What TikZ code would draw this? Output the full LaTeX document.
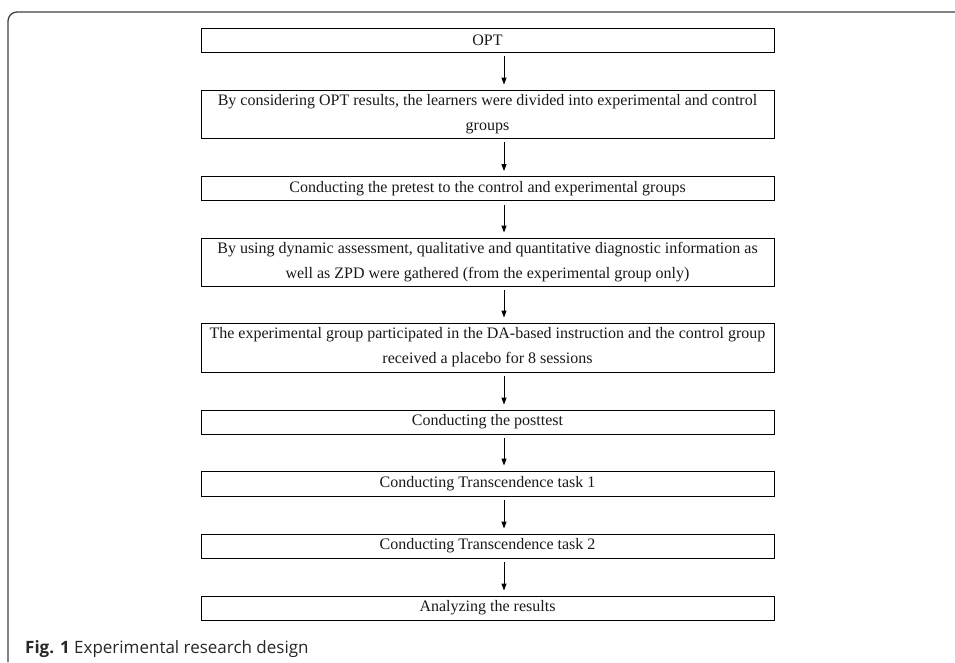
\documentclass[tikz,border=0pt]{standalone}
\usepackage{fontspec}
\setmainfont{Liberation Serif}
\newfontfamily\capfont{Open Sans}
\usetikzlibrary{arrows.meta}
\begin{document}
\begin{tikzpicture}[x=1pt,y=-1pt,
  stepbox/.style={draw=black,line width=0.9pt,minimum width=573pt,inner sep=0pt,
    font=\fontsize{16}{25}\selectfont,align=center,text=black!90},
  flow/.style={line width=0.9pt,-{Triangle[length=7pt,width=5pt]}}]
\useasboundingbox (0,0) rectangle (955,662);
\draw[line width=1.3pt,black!75,rounded corners=9pt] (8,662) -- (8,12) -- (955,12);
\def\bx{487.5}
\node[stepbox,minimum height=24pt] (b1) at (\bx,40) {OPT};
\node[stepbox,minimum height=48pt] (b2) at (\bx,114) {By considering OPT results, the learners were divided into experimental and control\\groups};
\node[stepbox,minimum height=24pt] (b3) at (\bx,188.5) {Conducting the pretest to the control and experimental groups};
\node[stepbox,minimum height=48pt] (b4) at (\bx,262) {By using dynamic assessment, qualitative and quantitative diagnostic information as\\well as ZPD were gathered (from the experimental group only)};
\node[stepbox,minimum height=49pt] (b5) at (\bx,347.5) {The experimental group participated in the DA-based instruction and the control group\\received a placebo for 8 sessions};
\node[stepbox,minimum height=24pt] (b6) at (\bx,422) {Conducting the posttest};
\node[stepbox,minimum height=25pt] (b7) at (\bx,483.5) {Conducting Transcendence task 1};
\node[stepbox,minimum height=24pt] (b8) at (\bx,546) {Conducting Transcendence task 2};
\node[stepbox,minimum height=24pt] (b9) at (\bx,608) {Analyzing the results};
\foreach \a/\b in {b1/b2,b2/b3,b3/b4,b4/b5,b5/b6,b6/b7,b7/b8,b8/b9}{
  \draw[flow] ([xshift=16.5pt,yshift=-4pt]\a.south) -- ([xshift=16.5pt,yshift=5pt]\b.north);
}
\node[anchor=base west,inner sep=0pt,font=\capfont\fontsize{17}{20}\selectfont,text=black!85] (cap) at (25,653) {\textbf{Fig. 1} Experimental research design};
\end{tikzpicture}
\end{document}
